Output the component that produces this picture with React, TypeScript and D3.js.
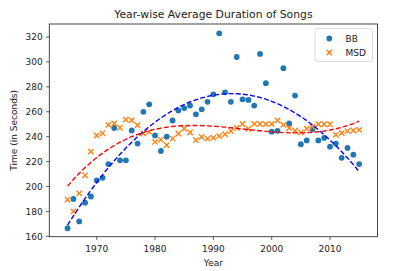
import React from "react";
import * as d3 from "d3";

const years: number[] = d3.range(1965, 2016);

const bbValues: number[] = [
  166.5, 190, 172, 187, 192, 205, 207, 218, 247, 221,
  221, 245, 234.5, 260, 266, 241, 228.5, 240, 253, 261,
  263, 265, 258, 262, 268, 274, 323, 275.6, 268, 304,
  270, 269.5, 265, 306.5, 283, 244, 244.7, 295, 250.6, 273,
  234, 237, 246, 237, 239, 232, 234.5, 223, 231, 225.6,
  218,
];

const msdValues: number[] = [
  189.5, 180, 194.5, 209, 228, 241, 242.7, 249.5, 250.6, 247.2,
  253.7, 253.2, 249.3, 242.6, 243.9, 235.8, 237.7, 233.1, 238.5, 242.6,
  246.6, 243.4, 237.2, 239.8, 238.5, 239.2, 240.5, 242, 244.5, 247,
  250.3, 246.3, 250.3, 250.3, 250, 250.3, 253, 249.5, 247, 245,
  243.5, 246.5, 248, 250, 250, 250, 241.5, 243, 244.5, 245,
  245.5,
];

const xTicks: number[] = [1970, 1980, 1990, 2000, 2010];
const yTicks: number[] = [160, 180, 200, 220, 240, 260, 280, 300, 320];

const titleText = "Year-wise Average Duration of Songs";
const xLabel = "Year";
const yLabel = "Time (in Seconds)";
const seriesNames = ["BB", "MSD"];

// cubic least squares fit
function polyfit(xs: number[], ys: number[], deg: number): (x: number) => number {
  const c = 1990, s = 25;
  const n = deg + 1;
  const A: number[][] = Array.from({ length: n }, () => new Array(n + 1).fill(0));
  xs.forEach((xv, i) => {
    const t = (xv - c) / s;
    const pw: number[] = [];
    for (let k = 0; k < 2 * n; k++) pw.push(Math.pow(t, k));
    for (let r = 0; r < n; r++) {
      for (let q = 0; q < n; q++) A[r][q] += pw[r + q];
      A[r][n] += pw[r] * ys[i];
    }
  });
  for (let col = 0; col < n; col++) {
    let piv = col;
    for (let r = col + 1; r < n; r++) if (Math.abs(A[r][col]) > Math.abs(A[piv][col])) piv = r;
    [A[col], A[piv]] = [A[piv], A[col]];
    for (let r = 0; r < n; r++) {
      if (r === col) continue;
      const f = A[r][col] / A[col][col];
      for (let q = col; q <= n; q++) A[r][q] -= f * A[col][q];
    }
  }
  const coef = A.map((row, i) => row[n] / row[i]);
  return (x: number) => {
    const t = (x - c) / s;
    let v = 0;
    for (let k = n - 1; k >= 0; k--) v = v * t + coef[k];
    return v;
  };
}

export default function App() {
  const W = 394, H = 271;
  const left = 49.3, right = 377.5, top = 24, bottom = 236.7;
  const x = d3.scaleLinear().domain([1961.87, 2018.14]).range([left, right]);
  const y = d3.scaleLinear().domain([159.7, 330.5]).range([bottom, top]);

  const bbFit = polyfit(years, bbValues, 3);
  const msdFit = polyfit(years, msdValues, 3);
  const line = d3.line<number>().x((d) => x(d));
  const bbPath = d3.line<number>().x((d) => x(d)).y((d) => y(bbFit(d)))(years) || "";
  const msdPath = d3.line<number>().x((d) => x(d)).y((d) => y(msdFit(d)))(years) || "";
  void line;

  const blue = "#1f77b4", orange = "#ff7f0e";
  const font = "DejaVu Sans, sans-serif";
  const xs = 2.7;

  return (
    <svg width={W} height={H} style={{ position: "absolute", left: 0, top: 0, background: "#fff" }} fontFamily={font}>
      <rect x={0} y={0} width={W} height={H} fill="#fff" />
      <text x={(left + right) / 2} y={18} textAnchor="middle" fontSize={10.8} fill="#222">{titleText}</text>

      <g clipPath="url(#clip)">
        {years.map((yr, i) => (
          <circle key={"b" + yr} cx={x(yr)} cy={y(bbValues[i])} r={2.9} fill={blue} />
        ))}
        {years.map((yr, i) => {
          const cx = x(yr), cy = y(msdValues[i]);
          return (
            <path key={"m" + yr} d={`M${cx - xs},${cy - xs}L${cx + xs},${cy + xs}M${cx - xs},${cy + xs}L${cx + xs},${cy - xs}`}
              stroke={orange} strokeWidth={1.35} fill="none" />
          );
        })}
        <path d={bbPath} stroke="#0000ff" strokeWidth={1.35} fill="none" strokeDasharray="5,2.2" />
        <path d={msdPath} stroke="#ff0000" strokeWidth={1.35} fill="none" strokeDasharray="5,2.2" />
      </g>
      <defs>
        <clipPath id="clip"><rect x={left} y={top} width={right - left} height={bottom - top} /></clipPath>
      </defs>

      <rect x={left} y={top} width={right - left} height={bottom - top} fill="none" stroke="#333" strokeWidth={0.9} />

      {xTicks.map((t) => (
        <g key={"xt" + t}>
          <line x1={x(t)} x2={x(t)} y1={bottom} y2={bottom + 3.2} stroke="#333" strokeWidth={0.8} />
          <text x={x(t)} y={bottom + 15} textAnchor="middle" fontSize={9} fill="#222">{t}</text>
        </g>
      ))}
      {yTicks.map((t) => (
        <g key={"yt" + t}>
          <line x1={left - 3.2} x2={left} y1={y(t)} y2={y(t)} stroke="#333" strokeWidth={0.8} />
          <text x={left - 6.5} y={y(t) + 3.2} textAnchor="end" fontSize={9} fill="#222">{t}</text>
        </g>
      ))}
      <text x={(left + right) / 2} y={265.5} textAnchor="middle" fontSize={9} fill="#222">{xLabel}</text>
      <text transform={`translate(16.5,${(top + bottom) / 2}) rotate(-90)`} textAnchor="middle" fontSize={9} fill="#222">{yLabel}</text>

      <g>
        <rect x={315} y={28.5} width={57.5} height={33} rx={2.5} fill="#fff" fillOpacity={0.8} stroke="#d6d6d6" strokeWidth={0.9} />
        <circle cx={329.3} cy={38.5} r={2.9} fill={blue} />
        <text x={345.5} y={41.7} fontSize={9} fill="#222">{seriesNames[0]}</text>
        <path d={`M${329.3 - xs},${52.5 - xs}L${329.3 + xs},${52.5 + xs}M${329.3 - xs},${52.5 + xs}L${329.3 + xs},${52.5 - xs}`} stroke={orange} strokeWidth={1.35} fill="none" />
        <text x={345.5} y={55.7} fontSize={9} fill="#222">{seriesNames[1]}</text>
      </g>
    </svg>
  );
}
